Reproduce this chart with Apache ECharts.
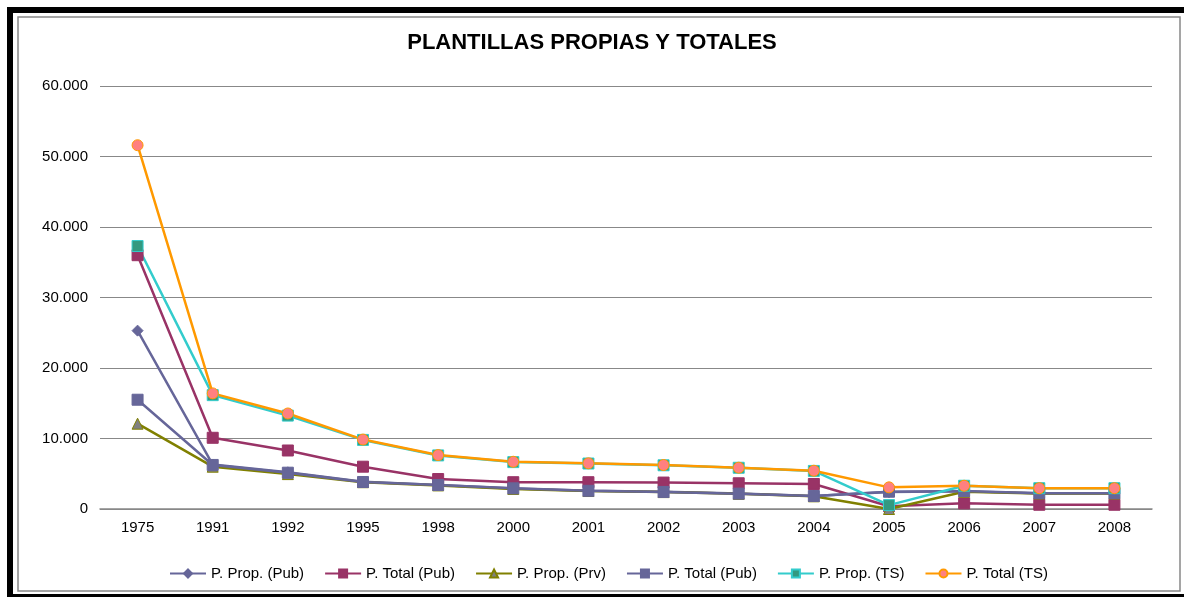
<!DOCTYPE html>
<html><head><meta charset="utf-8">
<script src="https://cdn.jsdelivr.net/npm/echarts@6/dist/echarts.min.js"></script>
<style>html,body{margin:0;padding:0;background:#fff;}#c{width:1184px;height:597px;}</style>
</head><body><div id="c"></div>
<script>
const categories = ['1975','1991','1992','1995','1998','2000','2001','2002','2003','2004','2005','2006','2007','2008'];
const propPub   = [25300, 6300, 5200, 3850, 3400, 2900, 2600, 2450, 2200, 1850, 2400, 2500, 2250, 2250];
const totalPub  = [36000, 10100, 8300, 6000, 4250, 3800, 3800, 3750, 3650, 3550, 400, 800, 600, 600];
const propPrv   = [12100, 6000, 4950, 3800, 3350, 2850, 2550, 2400, 2150, 1800, 0, 2450, 2200, 2200];
const totalPub2 = [15500, 6250, 5150, 3830, 3400, 2930, 2580, 2420, 2180, 1850, 2450, 2550, 2250, 2250];
const propTS    = [37300, 16150, 13250, 9800, 7600, 6650, 6450, 6200, 5850, 5400, 550, 3300, 2950, 2950];
const totalTS   = [51600, 16400, 13550, 9850, 7650, 6700, 6480, 6240, 5860, 5430, 3070, 3300, 2950, 2950];
const yTicks = {min: 0, max: 60000, interval: 10000};

const chart = echarts.init(document.getElementById('c'));
const txt = {fontFamily: 'Liberation Sans, Arial, sans-serif', color: '#000'};
function mk(name, data, color, symbol, fill, size) {
  return {
    name, type: 'line', data, symbol, symbolSize: size,
    lineStyle: {color, width: 2.5},
    itemStyle: {color: fill, borderColor: color, borderWidth: 1},
    emphasis: {disabled: true}, animation: false
  };
}
chart.setOption({
  animation: false,
  title: {text: 'PLANTILLAS PROPIAS Y TOTALES', left: 'center', top: 27,
    textStyle: {...txt, fontSize: 22, fontWeight: 'bold'}},
  graphic: [
    {type: 'rect', shape: {x: 7, y: 7, width: 1177, height: 6}, style: {fill: '#000'}},
    {type: 'rect', shape: {x: 7, y: 7, width: 6, height: 590}, style: {fill: '#000'}},
    {type: 'rect', shape: {x: 7, y: 594, width: 1177, height: 3}, style: {fill: '#000'}},
    {type: 'rect', shape: {x: 18, y: 17, width: 1162, height: 574}, style: {fill: 'none', stroke: '#888', lineWidth: 1.5}}
  ],
  grid: {left: 100, right: 32, top: 86, bottom: 88},
  legend: {
    top: 561, left: 164, itemWidth: 36, itemHeight: 10, itemGap: 20,
    textStyle: {...txt, fontSize: 15},
    data: ['P. Prop. (Pub)', 'P. Total (Pub)', 'P. Prop. (Prv)', 'P. Total (Pub) ', 'P. Prop. (TS)', 'P. Total (TS)'],
    formatter: n => n.trim()
  },
  xAxis: {type: 'category', data: categories, boundaryGap: true,
    axisLine: {lineStyle: {color: '#888', width: 1.5}}, axisTick: {show: false},
    axisLabel: {...txt, fontSize: 15, margin: 11}},
  yAxis: {type: 'value', min: yTicks.min, max: yTicks.max, interval: yTicks.interval,
    axisLine: {show: false}, axisTick: {show: false},
    splitLine: {lineStyle: {color: '#888', width: 1.2}},
    axisLabel: {...txt, fontSize: 15, margin: 12,
      formatter: v => v === 0 ? '0' : (v / 1000).toFixed(0) + '.000'}},
  series: [
    mk('P. Prop. (Pub)', propPub, '#666699', 'diamond', '#666699', 11),
    mk('P. Total (Pub)', totalPub, '#993366', 'rect', '#993366', 11),
    mk('P. Prop. (Prv)', propPrv, '#808000', 'triangle', '#808080', 11),
    mk('P. Total (Pub) ', totalPub2, '#666699', 'rect', '#666699', 11),
    mk('P. Prop. (TS)', propTS, '#33CCCC', 'rect', '#339980', 11),
    mk('P. Total (TS)', totalTS, '#FF9900', 'circle', '#FF8080', 11)
  ]
});
</script></body></html>
